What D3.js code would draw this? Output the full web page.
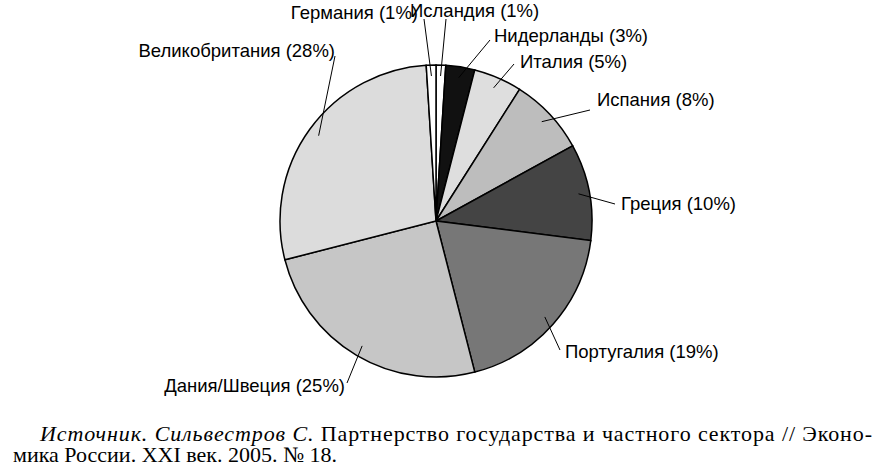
<!DOCTYPE html>
<html><head><meta charset="utf-8">
<script src="https://cdn.jsdelivr.net/npm/d3@7"></script>
<style>body{margin:0;background:#fff}</style>
</head><body>
<svg id="chart" width="876" height="467"></svg>
<script>
// data, clockwise from 12 o'clock
const countries = ["Исландия", "Нидерланды", "Италия", "Испания", "Греция", "Португалия", "Дания/Швеция", "Великобритания", "Германия"];
const shares = [1, 3, 5, 8, 10, 19, 25, 28, 1];
const fills = ["#ffffff", "#111111", "#dedede", "#bdbdbd", "#444444", "#777777", "#c6c6c6", "#dcdcdc", "#ffffff"];

// label baseline, alignment, and the leader line's outer end
const labelPos = [
  {x: 410, y: 17, anchor: "start", lx: 446, ly: 19},
  {x: 494, y: 42, anchor: "start", lx: 490, ly: 40},
  {x: 520, y: 68, anchor: "start", lx: 514, ly: 64},
  {x: 597, y: 106, anchor: "start", lx: 590, ly: 110},
  {x: 621, y: 210, anchor: "start", lx: 615, ly: 204},
  {x: 565, y: 358, anchor: "start", lx: 560, ly: 350},
  {x: 345, y: 392, anchor: "end", lx: 347, ly: 383},
  {x: 335, y: 57, anchor: "end", lx: 335, ly: 56},
  {x: 418, y: 19, anchor: "end", lx: 424, ly: 19}
];

const svg = d3.select("#chart");
const cx = 436, cy = 221, r = 156;

const pie = d3.pie().sort(null).value(d => d)(shares);
const arc = d3.arc().innerRadius(0).outerRadius(r);

const g = svg.append("g").attr("transform", `translate(${cx},${cy})`);
g.selectAll("path")
  .data(pie)
  .join("path")
  .attr("d", arc)
  .attr("fill", (d, i) => fills[i])
  .attr("stroke", "#000")
  .attr("stroke-width", 1.5);

// leader lines and labels
pie.forEach((d, i) => {
  const a = (d.startAngle + d.endAngle) / 2;
  const px = cx + Math.sin(a) * r * 0.93, py = cy - Math.cos(a) * r * 0.93;
  const p = labelPos[i];
  svg.append("line")
    .attr("x1", p.lx).attr("y1", p.ly)
    .attr("x2", px).attr("y2", py)
    .attr("stroke", "#000").attr("stroke-width", 1);
  svg.append("text")
    .attr("x", p.x).attr("y", p.y)
    .attr("text-anchor", p.anchor)
    .attr("font-family", "Liberation Sans, Arial, sans-serif")
    .attr("font-size", 18.5)
    .text(`${countries[i]} (${shares[i]}%)`);
});

// source caption
const cap = svg.append("text")
  .attr("x", 40).attr("y", 441)
  .attr("font-family", "Liberation Serif, Times New Roman, serif")
  .attr("font-size", 22)
  .attr("textLength", 832).attr("lengthAdjust", "spacing");
cap.append("tspan").attr("font-style", "italic").text("Источник. Сильвестров С.");
cap.append("tspan").text(" Партнерство государства и частного сектора // Эконо-");
svg.append("text")
  .attr("x", 13).attr("y", 462)
  .attr("font-family", "Liberation Serif, Times New Roman, serif")
  .attr("font-size", 22)
  .text("мика России. XXI век. 2005. № 18.");
</script>
</body></html>
